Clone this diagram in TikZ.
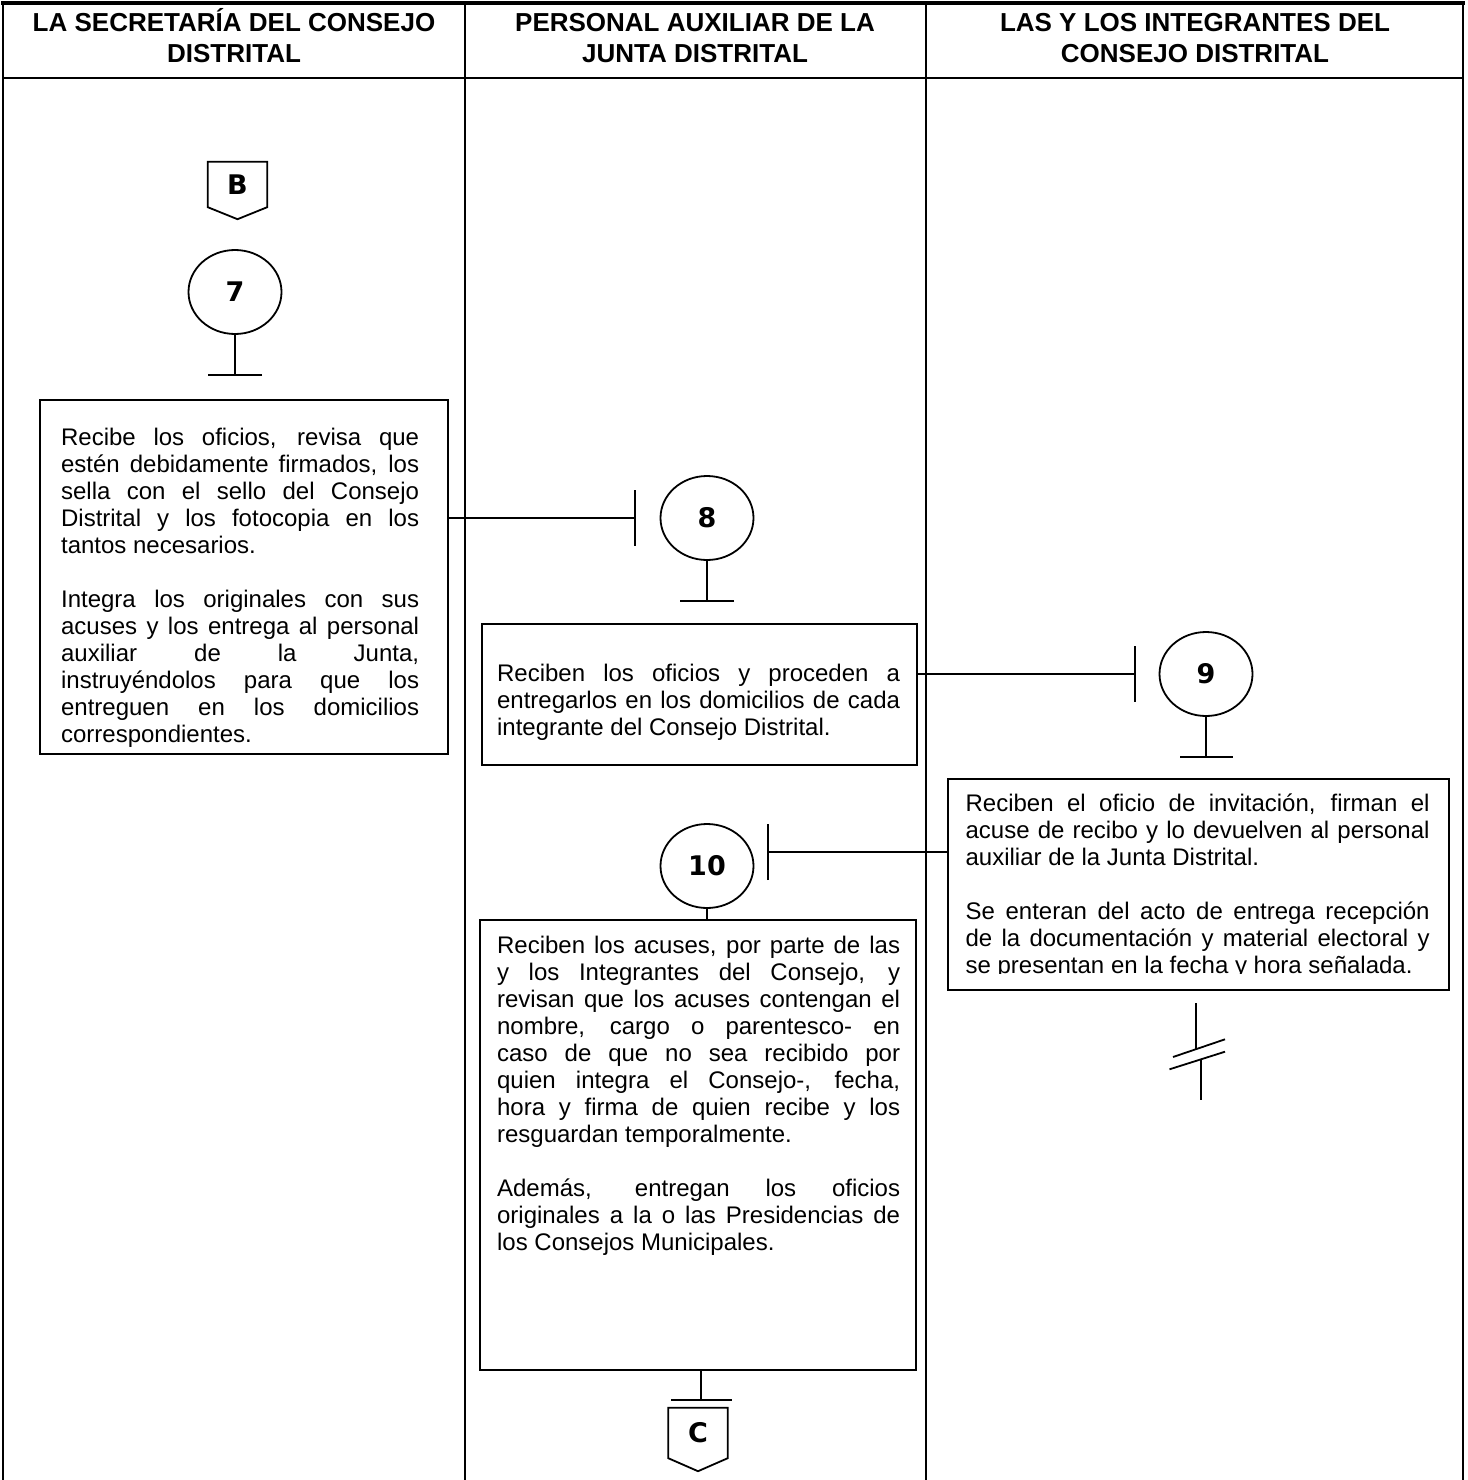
\documentclass[tikz,border=0pt]{standalone}
\usepackage{fontspec}
\setmainfont{Liberation Sans}
\newfontfamily\numfont{DejaVu Sans}
\usepgflibrary{arrows.meta}
\usetikzlibrary{calc,shapes.geometric}
\setlength\parindent{0pt}
\newcommand\cuerpo{\fontsize{24}{27}\selectfont\tolerance=10000\hyphenpenalty=10000}
\newcommand\titulo{\fontsize{26}{31}\selectfont\bfseries}
\newcommand\numero{\fontsize{27}{30}\selectfont\numfont\bfseries}

\begin{document}
\begin{tikzpicture}[x=1pt,y=-1pt,
    marco/.style={line width=2pt},
    linea/.style={line width=1.8pt},
    caja/.style={draw, line width=2.2pt, inner sep=0pt},
    texto/.style={anchor=north west, inner sep=0pt, align=justify, font=\cuerpo},
    titulo/.style={anchor=north, align=center, inner sep=0pt, font=\titulo},
    paso/.style={draw, ellipse, line width=1.8pt, minimum width=93pt, minimum height=84pt, inner sep=0pt, font=\numero},
    conector/.style={minimum width=59pt, inner sep=0pt, font=\numero},
    tope/.style={linea, -{Bar[width=#1]}}]
    \useasboundingbox (0,0) rectangle (1467,1480);
    % marco y encabezados
    \draw[marco] (3,1485) -- (3,3) -- (1463,3) -- (1463,1485);
    \draw[line width=4pt] (1,3) -- (1465,3);
    \draw[marco] (3,78) -- (1463,78);
    \draw[marco] (465,3) -- (465,1485);
    \draw[marco] (926,3) -- (926,1485);
    \node[titulo] (hdA) at (234,7) {\rule{0pt}{24pt}LA SECRETARÍA DEL CONSEJO\\DISTRITAL};
    \node[titulo] (hdB) at (695,7) {\rule{0pt}{24pt}PERSONAL AUXILIAR DE LA\\JUNTA DISTRITAL};
    \node[titulo] (hdC) at (1195,7) {\rule{0pt}{24pt}LAS Y LOS INTEGRANTES DEL\\CONSEJO DISTRITAL};
    % conectores de pagina
    \node[conector, minimum height=45pt] (cB) at (237.5,184.5) {B};
    \draw[linea] (cB.north west) -- (cB.north east) -- (cB.south east) -- ([yshift=-12pt]cB.south) -- (cB.south west) -- cycle;
    \node[conector, minimum height=50pt] (cC) at (698,1433) {C};
    \draw[linea] (cC.north west) -- (cC.north east) -- (cC.south east) -- ([yshift=-13pt]cC.south) -- (cC.south west) -- cycle;
    % pasos
    \node[paso] (c7) at (235,292) {7};
    \node[paso] (c8) at (707,518) {8};
    \node[paso] (c9) at (1206,674) {9};
    \node[paso] (c10) at (707,866) {10};
    % cajas
    \node[caja, minimum width=408pt, minimum height=354pt] (box7) at (244,577) {};
    \node[caja, minimum width=435pt, minimum height=141pt] (box8) at (699.5,694.5) {};
    \node[caja, minimum width=501pt, minimum height=211pt] (box9) at (1198.5,884.5) {};
    \node[caja, minimum width=436pt, minimum height=450pt] (box10) at (698,1145) {};
    \node[texto, text width=358pt] (t7) at ($(box7.north west)+(22,27)$) {\strut Recibe los oficios, revisa que\linebreak
        estén debidamente firmados, los\linebreak
        sella con el sello del Consejo\linebreak
        Distrital y los fotocopia en los\linebreak
        tantos necesarios.\par\vspace{27pt}
        Integra los originales con sus\linebreak
        acuses y los entrega al personal\linebreak
        auxiliar de la Junta,\linebreak
        instruyéndolos para que los\linebreak
        entreguen en los domicilios\linebreak
        correspondientes.};
    \node[texto, text width=403pt] (t8) at ($(box8.north west)+(16,39.5)$) {\strut Reciben los oficios y proceden a\linebreak
        entregarlos en los domicilios de cada\linebreak
        integrante del Consejo Distrital.};
    \begin{scope}
        \clip (box9.north west) rectangle ([yshift=18pt]box9.south east);
        \node[texto, text width=464pt] (t9) at ($(box9.north west)+(18.5,14)$) {\strut Reciben el oficio de invitación, firman el\linebreak
            acuse de recibo y lo devuelven al personal\linebreak
            auxiliar de la Junta Distrital.\par\vspace{27pt}
            Se enteran del acto de entrega recepción\linebreak
            de la documentación y material electoral y\linebreak
            se presentan en la fecha y hora señalada.};
    \end{scope}
    \node[texto, text width=403pt] (t10) at ($(box10.north west)+(18,15)$) {\strut Reciben los acuses, por parte de las\linebreak
        y los Integrantes del Consejo, y\linebreak
        revisan que los acuses contengan el\linebreak
        nombre, cargo o parentesco- en\linebreak
        caso de que no sea recibido por\linebreak
        quien integra el Consejo-, fecha,\linebreak
        hora y firma de quien recibe y los\linebreak
        resguardan temporalmente.\par\vspace{27pt}
        Además, entregan los oficios\linebreak
        originales a la o las Presidencias de\linebreak
        los Consejos Municipales.};
    % conexiones
    \coordinate (e7) at ($(c7.south)+(0,41)$);
    \coordinate (e8) at ($(c8.west)+(-24,0)$);
    \coordinate (f8) at ($(c8.south)+(0,41)$);
    \coordinate (e9) at ($(c9.west)+(-23,0)$);
    \coordinate (f9) at ($(c9.south)+(0,41)$);
    \coordinate (e10) at (767,852);
    \coordinate (f10) at (701,1401);
    \draw[tope=54pt] (c7) -- (e7);
    \draw[tope=56pt] (box7.east |- c8) -- (e8);
    \draw[tope=54pt] (c8) -- (f8);
    \draw[tope=56pt] (box8.east |- c9) -- (e9);
    \draw[tope=53pt] (c9) -- (f9);
    \draw[tope=56pt] ([xshift=2pt]box9.west |- e10) -- (e10);
    \draw[linea] (c10.south) -- (c10.south |- box10.north);
    \draw[tope=61pt] (f10 |- box10.south) -- (f10);
    % corte del flujo
    \coordinate (corte) at (1198,1052);
    \draw[linea] ($(corte)+(-2.3,-49)$) -- ($(corte)+(-2.3,-3)$);
    \draw[linea] ($(corte)+(-25,5)$) -- ($(corte)+(27,-12.7)$);
    \draw[linea] ($(corte)+(-28.5,17.3)$) -- ($(corte)+(27,-0.3)$);
    \draw[linea] ($(corte)+(2.7,8)$) -- ($(corte)+(2.7,48)$);
\end{tikzpicture}
\end{document}
